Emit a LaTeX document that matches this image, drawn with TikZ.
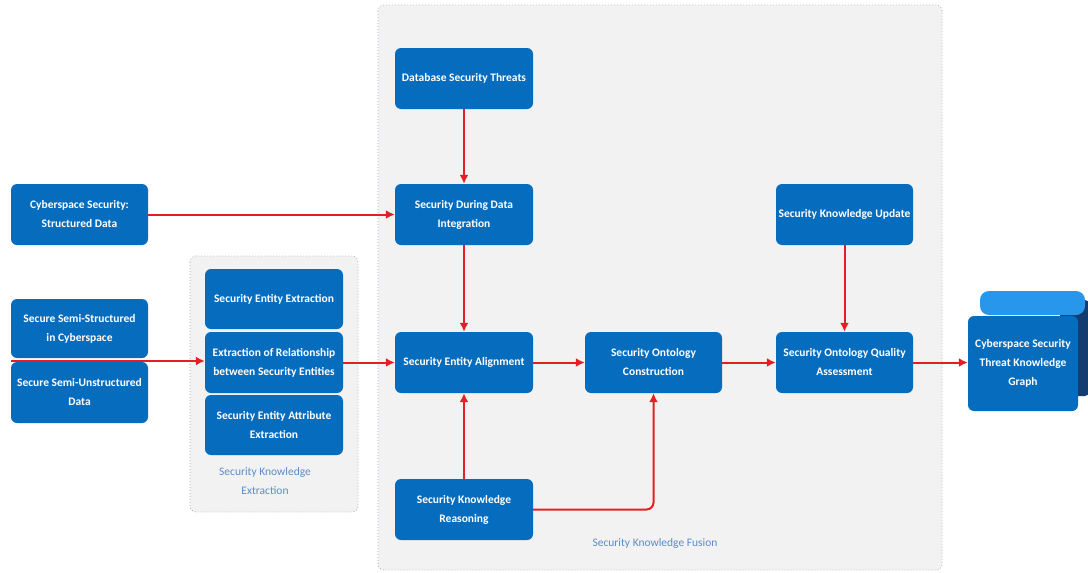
\documentclass[tikz,border=0pt]{standalone}
\usepackage{fontspec}
\setmainfont{Carlito}
\usetikzlibrary{arrows.meta}
\definecolor{nodeblue}{RGB}{6,108,190}
\definecolor{arrred}{RGB}{228,30,36}
\definecolor{panelgray}{RGB}{242,242,242}
\definecolor{dotcol}{RGB}{150,170,190}
\definecolor{labelblue}{RGB}{90,140,200}
\definecolor{barblue}{RGB}{40,150,235}
\definecolor{navyback}{RGB}{20,60,110}
\begin{document}
\begin{tikzpicture}[x=1pt,y=-1pt,
  box/.style={fill=nodeblue, rounded corners=6pt, text=white,
    font=\bfseries\fontsize{11.5}{19}\selectfont, align=center, inner sep=1pt,
    minimum width=138pt, minimum height=61pt},
  arr/.style={draw=arrred, line width=2pt, -{Latex[length=9pt,width=9pt]}},
  panel/.style={draw=dotcol, fill=panelgray, line width=0.8pt, dash pattern=on 0.8pt off 2.2pt, rounded corners=6pt},
  plabel/.style={text=labelblue, font=\fontsize{11.5}{19}\selectfont, align=center}
]
\useasboundingbox (0,0) rectangle (1088,573);
\fill[white] (0,0) rectangle (1088,573);

% containers
\draw[panel] (378,5) rectangle (942,570);
\draw[panel] (190,256) rectangle (358,512);

% left inputs
\node[box, minimum width=137pt] (struct) at (79.5,214.5) {Cyberspace Security:\\Structured Data};
\node[box, minimum width=137pt, minimum height=59pt] (semis) at (79.5,328.5) {Secure Semi-Structured\\in Cyberspace};
\node[box, minimum width=137pt] (semiu) at (79.5,392.5) {Secure Semi-Unstructured\\Data};

% extraction
\node[box, minimum height=60pt] (ent) at (274,299) {Security Entity Extraction};
\node[box] (rel) at (274,362.5) {Extraction of Relationship\\between Security Entities};
\node[box, minimum height=60pt] (attr) at (274,425) {Security Entity Attribute\\Extraction};
\node[plabel] (extlabel) at (265,481) {Security Knowledge\\Extraction};

% fusion
\node[box] (db) at (464,78.5) {Database Security Threats};
\node[box] (integ) at (464,214.5) {Security During Data\\Integration};
\node[box] (align) at (464,362.5) {Security Entity Alignment};
\node[box] (reason) at (464,509.5) {Security Knowledge\\Reasoning};
\node[box, minimum width=137pt] (cons) at (653.5,362.5) {Security Ontology\\Construction};
\node[box, minimum width=137pt] (upd) at (844.5,214.5) {Security Knowledge Update};
\node[box, minimum width=137pt] (qual) at (844.5,362.5) {Security Ontology Quality\\Assessment};
\node[plabel] (fuslabel) at (655,543) {Security Knowledge Fusion};

% knowledge graph stack
\fill[navyback, rounded corners=5pt] (1060,300) rectangle (1090,396);
\fill[barblue, rounded corners=9pt] (980,291) rectangle (1085,315);
\node[box, minimum width=110pt, minimum height=95pt] (kg) at (1023,363.5) {Cyberspace Security\\Threat Knowledge\\Graph};

% connectors
\coordinate (semistart) at (11,361);
\draw[arr] (struct.east) -- (integ.west);
\draw[arr] (semistart) -- (semistart -| rel.west);
\draw[arr] (rel.east) -- (align.west);
\draw[arr] (db.south) -- (integ.north);
\draw[arr] (integ.south) -- (align.north);
\draw[arr] (reason.north) -- (align.south);
\draw[arr, rounded corners=7pt] (reason.east) -| (cons.south);
\draw[arr] (align.east) -- (cons.west);
\draw[arr] (cons.east) -- (qual.west);
\draw[arr] (upd.south) -- (qual.north);
\draw[arr] (qual.east) -- (qual.east -| kg.west);
\end{tikzpicture}
\end{document}
